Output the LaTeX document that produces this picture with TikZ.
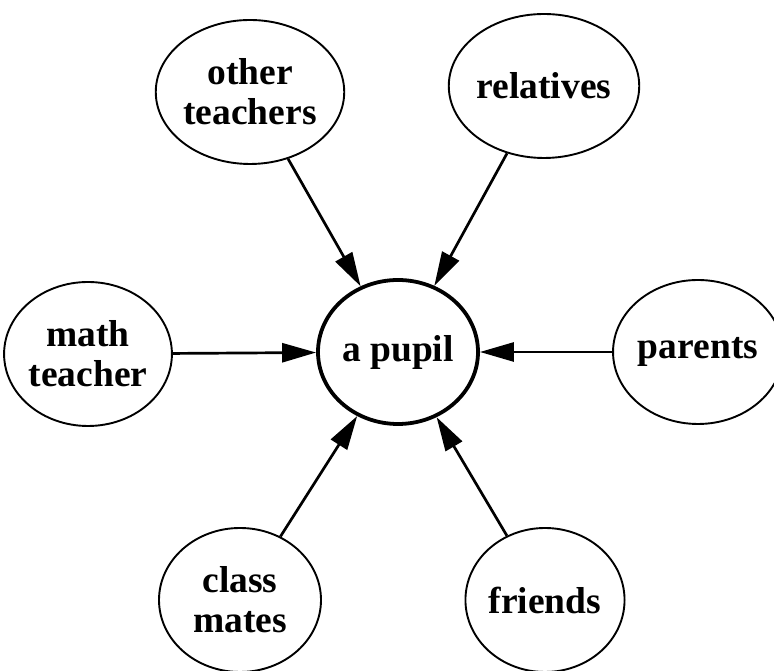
\documentclass[tikz,border=0pt]{standalone}
\usepackage{fontspec}
\setmainfont{Liberation Serif}
\usetikzlibrary{shapes.geometric,arrows.meta,positioning}

\begin{document}
\begin{tikzpicture}[x=1pt, y=1pt,
    person/.style={draw, ellipse, line width=1.9pt, inner sep=0pt, align=center,
        minimum width=158pt, minimum height=144pt,
        font=\fontsize{37.5}{40}\selectfont\bfseries},
    influence/.style={-{Triangle[length=34pt,width=19pt]}, line width=2.7pt}]
    \useasboundingbox (0,0) rectangle (774,671);
    \node[person, line width=3.8pt, minimum width=160pt, minimum height=144pt] (pupil) at (398,319) {a pupil};
    \node[person] (teachers) at (250,579) {other\\teachers};
    \node[person] (relatives) at (544,585) {relatives};
    \node[person] (math) at (88,317) {math\\teacher};
    \node[person, minimum width=152pt] (parents) at (698,319) {parents};
    \node[person, minimum width=162pt] (mates) at (240,71) {class\\mates};
    \node[person] (friends) at (545,71) {friends};
    \draw[influence] (teachers) -- (pupil);
    \draw[influence] (relatives) -- (pupil);
    \draw[influence] (math) -- (pupil);
    \draw[influence] (parents) -- (pupil);
    \draw[influence] (mates) -- (pupil);
    \draw[influence] (friends) -- (pupil);
\end{tikzpicture}
\end{document}
